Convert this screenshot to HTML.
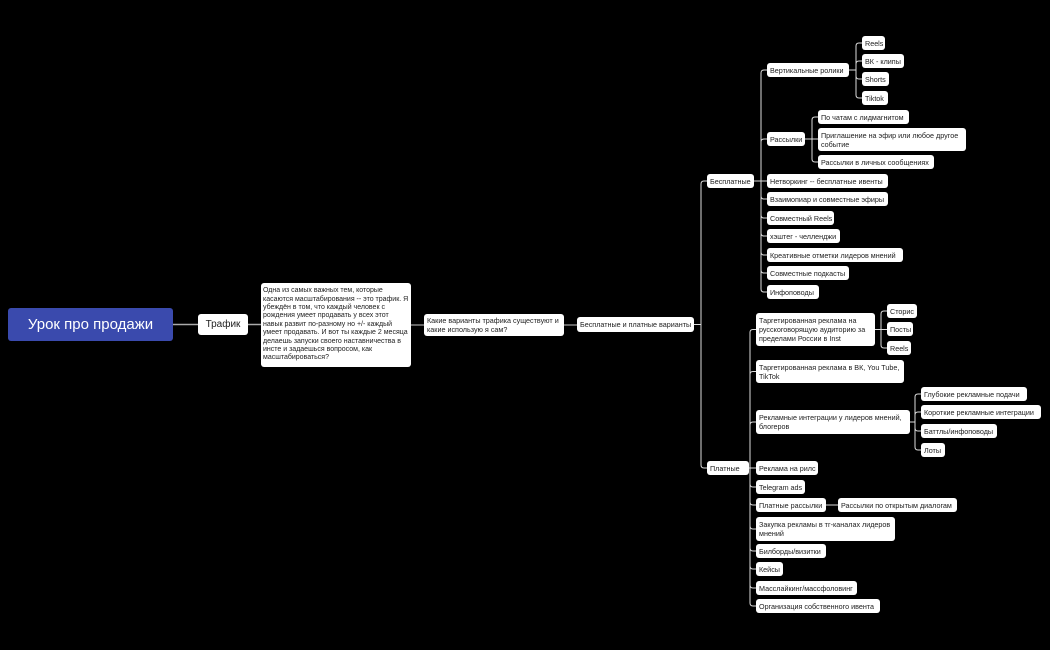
<!DOCTYPE html>
<html><head><meta charset="utf-8"><style>
body{margin:0;width:1050px;height:650px;background:#000;overflow:hidden;position:relative;font-family:"Liberation Sans","DejaVu Sans",sans-serif}
.n{position:absolute;background:#fff;color:#222;border-radius:3px;font-size:7.2px;line-height:9px;padding:0 3px;box-sizing:border-box;display:flex;align-items:center;white-space:nowrap;overflow:hidden}
.w{white-space:normal}
svg{position:absolute;left:0;top:0}
</style></head><body>
<svg id="s" width="1050" height="650"></svg>
<div class="n" style="left:8px;top:308px;width:165px;height:33px;background:#3a4aad;color:#fff;font-size:15px;justify-content:center;border-radius:3px">Урок про продажи</div>
<div id="c"></div>
<script>
var N={
t:[198,314,50,21,"Трафик",1],
l:[261,283,150,84,"Одна из самых важных тем, которые касаются масштабирования -- это трафик. Я убеждён в том, что каждый человек с рождения умеет продавать у всех этот навык развит по-разному но +/- каждый умеет продавать. И вот ты каждые 2 месяца делаешь запуски своего наставничества в инсте и задаешься вопросом, как масштабироваться?",2],
k:[424,314,140,22,"Какие варианты трафика существуют и какие использую я сам?"],
bp:[577,317,117,15,"Бесплатные и платные варианты"],
b:[707,174,47,14,"Бесплатные"],
p:[707,461,42,14,"Платные"],
vr:[767,63,82,14,"Вертикальные ролики"],
r1:[862,36,23,14,"Reels"],r2:[862,54,42,14,"ВК - клипы"],r3:[862,72,27,14,"Shorts"],r4:[862,91,26,14,"Tiktok"],
ra:[767,132,38,14,"Рассылки"],
a1:[818,110,91,14,"По чатам с лидмагнитом"],a2:[818,128,148,23,"Приглашение на эфир или любое другое событие"],a3:[818,155,116,14,"Рассылки в личных сообщениях"],
b3:[767,174,121,14,"Нетворкинг -- бесплатные ивенты"],b4:[767,192,121,14,"Взаимопиар и совместные эфиры"],b5:[767,211,67,14,"Совместный Reels"],b6:[767,229,73,14,"хэштег - челленджи"],b7:[767,248,136,14,"Креативные отметки лидеров мнений"],b8:[767,266,82,14,"Совместные подкасты"],b9:[767,285,52,14,"Инфоповоды"],
p1:[756,313,119,33,"Таргетированная реклама на русскоговорящую аудиторию за пределами России в Inst"],
s1:[887,304,30,14,"Сторис"],s2:[887,322,26,14,"Посты"],s3:[887,341,24,14,"Reels"],
p2:[756,360,148,23,"Таргетированная реклама в ВК, You Tube, TikTok"],
p3:[756,410,154,24,"Рекламные интеграции у лидеров мнений, блогеров"],
g1:[921,387,106,14,"Глубокие рекламные подачи"],g2:[921,405,120,14,"Короткие рекламные интеграции"],g3:[921,424,76,14,"Баттлы/инфоповоды"],g4:[921,443,24,14,"Лоты"],
p4:[756,461,62,14,"Реклама на рилс"],p5:[756,480,49,14,"Telegram ads"],p6:[756,498,70,14,"Платные рассылки"],
q1:[838,498,119,14,"Рассылки по открытым диалогам"],
p7:[756,517,139,24,"Закупка рекламы в тг-каналах лидеров мнений"],p8:[756,544,70,14,"Билборды/визитки"],p9:[756,562,27,14,"Кейсы"],p10:[756,581,101,14,"Масслайкинг/массфоловинг"],p11:[756,599,124,14,"Организация собственного ивента"]
};
var h="";
for(var k in N){var v=N[k];var st='';if(v[5]==1)st=';font-size:10px;justify-content:center';if(v[5]==2)st=';font-size:7px;line-height:8.4px;padding:0 2px';
h+='<div class="n'+(v[3]>16?' w':'')+'" style="left:'+v[0]+'px;top:'+v[1]+'px;width:'+v[2]+'px;height:'+v[3]+'px'+st+'">'+v[4]+'</div>';}
document.getElementById('c').innerHTML=h;
var s="";
function L(px,py,kids,col){
 var bx=N[kids[0]][0]-6;
 s+='<path d="M'+px+' '+py+'H'+bx+'" stroke="'+col+'" stroke-width="1" fill="none"/>';
 kids.forEach(function(c){var n=N[c],cx=n[0],cy=n[1]+n[3]/2,r=3;
  if(Math.abs(cy-py)<1){s+='<path d="M'+bx+' '+py+'H'+cx+'" stroke="'+col+'" stroke-width="1" fill="none"/>';return;}
  var d=cy>py?1:-1;
  s+='<path d="M'+bx+' '+py+'V'+(cy-d*r)+'Q'+bx+' '+cy+' '+(bx+r)+' '+cy+'H'+cx+'" stroke="'+col+'" stroke-width="1" fill="none"/>';});
}
function R(k){var n=N[k];return [n[0]+n[2],n[1]+n[3]/2];}
s+='<path d="M173 324.5H198" stroke="#aaa" stroke-width="1.5"/>';
s+='<path d="M248 324.5H261" stroke="#aaa" stroke-width="1.5"/>';
s+='<path d="M411 325H424" stroke="#aaa" stroke-width="1.2"/>';
s+='<path d="M564 325H577" stroke="#aaa" stroke-width="1.2"/>';
var W="#ddd",a;
a=R('bp');L(a[0],a[1],['b','p'],W);
a=R('b');L(a[0],a[1],['vr','ra','b3','b4','b5','b6','b7','b8','b9'],W);
a=R('vr');L(a[0],a[1],['r1','r2','r3','r4'],W);
a=R('ra');L(a[0],a[1],['a1','a2','a3'],W);
a=R('p');L(a[0],a[1],['p1','p2','p3','p4','p5','p6','p7','p8','p9','p10','p11'],W);
a=R('p1');L(a[0],a[1],['s1','s2','s3'],W);
a=R('p3');L(a[0],a[1],['g1','g2','g3','g4'],W);
a=R('p6');L(a[0],a[1],['q1'],W);
document.getElementById('s').innerHTML=s;
</script>
</body></html>
